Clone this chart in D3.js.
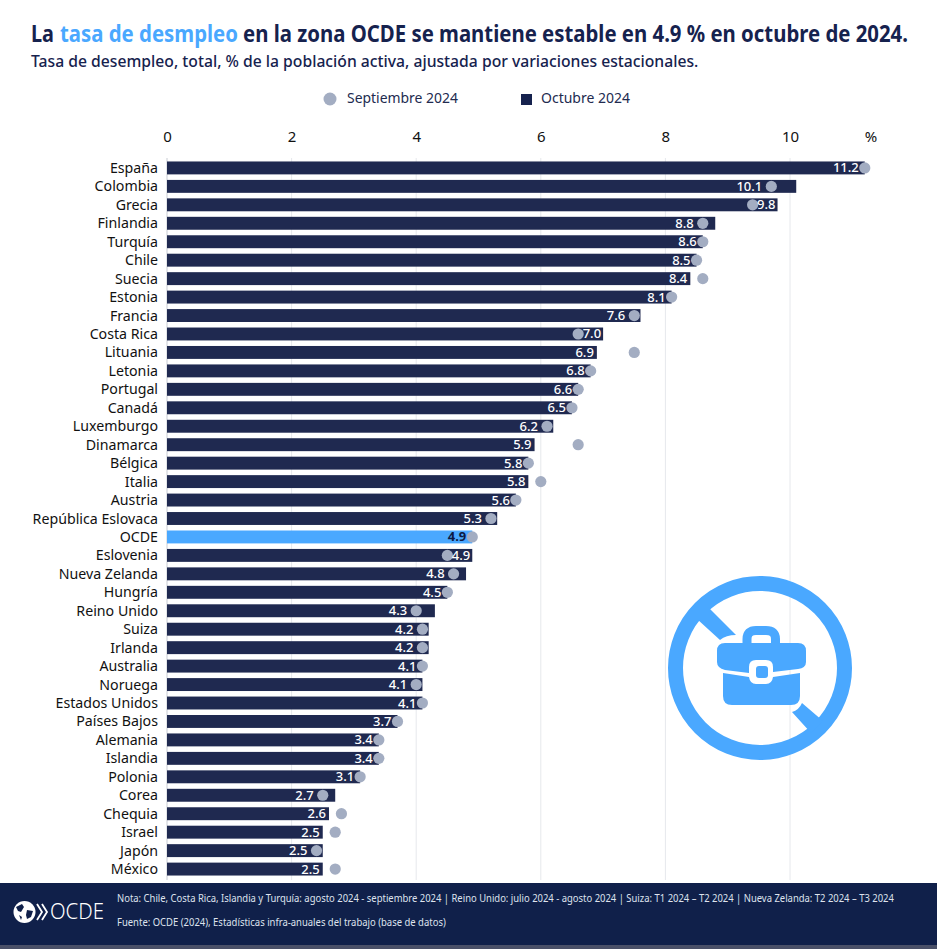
<!DOCTYPE html>
<html><head><meta charset="utf-8">
<script src="https://cdn.jsdelivr.net/npm/d3@7/dist/d3.min.js"></script>
<style>html,body{margin:0;padding:0;background:#fff}svg{display:block}text{font-family:"Noto Sans",sans-serif}</style>
</head><body><svg id="c" width="937" height="949"></svg>
<script>
const categories=["España","Colombia","Grecia","Finlandia","Turquía","Chile","Suecia","Estonia","Francia","Costa Rica","Lituania","Letonia","Portugal","Canadá","Luxemburgo","Dinamarca","Bélgica","Italia","Austria","República Eslovaca","OCDE","Eslovenia","Nueva Zelanda","Hungría","Reino Unido","Suiza","Irlanda","Australia","Noruega","Estados Unidos","Países Bajos","Alemania","Islandia","Polonia","Corea","Chequia","Israel","Japón","México"];
const octubre=[11.2,10.1,9.8,8.8,8.6,8.5,8.4,8.1,7.6,7.0,6.9,6.8,6.6,6.5,6.2,5.9,5.8,5.8,5.6,5.3,4.9,4.9,4.8,4.5,4.3,4.2,4.2,4.1,4.1,4.1,3.7,3.4,3.4,3.1,2.7,2.6,2.5,2.5,2.5];
const septiembre=[11.2,9.7,9.4,8.6,8.6,8.5,8.6,8.1,7.5,6.6,7.5,6.8,6.6,6.5,6.1,6.6,5.8,6.0,5.6,5.2,4.9,4.5,4.6,4.5,4.0,4.1,4.1,4.1,4.0,4.1,3.7,3.4,3.4,3.1,2.5,2.8,2.7,2.4,2.7];
const xTicks=[0,2,4,6,8,10];
const titleParts=["La","tasa de desmpleo","en la zona OCDE se mantiene estable en 4.9 % en octubre de 2024."];
const subtitle="Tasa de desempleo, total, % de la población activa, ajustada por variaciones estacionales.";
const legendNames=["Septiembre 2024","Octubre 2024"];
const notes=["Nota: Chile, Costa Rica, Islandia y Turquía: agosto 2024 - septiembre 2024 | Reino Unido: julio 2024 - agosto 2024 | Suiza: T1 2024 – T2 2024 | Nueva Zelanda: T2 2024 – T3 2024","Fuente: OCDE (2024), Estadísticas infra-anuales del trabajo (base de datos)"];

const NAVY="#1f2950",DOT="#a3adc2",BLUE="#4aa8ff",INK="#16224e";
const svg=d3.select("#c");
const x=d3.scaleLinear().domain([0,10]).range([167,790]);
const y=d3.scaleBand().domain(categories).range([158.7,878.3]).paddingInner(.3).paddingOuter(.15);

// squeezes a text horizontally to the wanted width
function fit(node,px,py,w){
  const len=node.getComputedTextLength();
  d3.select(node).attr("transform",`translate(${px},${py}) scale(${w/len},1)`);
}

// title
const titleLayout=[{x:31,w:23,c:INK},{x:60,w:178,c:BLUE},{x:243,w:665,c:INK}];
svg.append("g").selectAll("text").data(titleParts).join("text")
 .attr("font-size",24).attr("font-weight",700).attr("fill",(d,i)=>titleLayout[i].c).text(d=>d)
 .each(function(d,i){fit(this,titleLayout[i].x,42,titleLayout[i].w);});
fit(svg.append("text").attr("font-size",16).attr("font-weight",500).attr("fill",INK).text(subtitle).node(),31,67,668);

// legend
svg.append("circle").attr("cx",330).attr("cy",99).attr("r",6.5).attr("fill",DOT);
fit(svg.append("text").attr("font-size",14).attr("fill","#222b4f").text(legendNames[0]).node(),347,103,111);
svg.append("rect").attr("x",521).attr("y",94).attr("width",11).attr("height",11).attr("fill",INK);
fit(svg.append("text").attr("font-size",14).attr("fill","#222b4f").text(legendNames[1]).node(),541,103,89);

// grid & axis
svg.append("g").selectAll("line").data(xTicks.slice(1)).join("line")
 .attr("x1",d=>x(d)).attr("x2",d=>x(d)).attr("y1",158).attr("y2",880).attr("stroke","#e6e8ec");
svg.append("line").attr("x1",x(0)).attr("x2",x(0)).attr("y1",158).attr("y2",880).attr("stroke","#c9ccd3");
const ax=svg.append("g").attr("transform","translate(0,145)").call(d3.axisTop(x).tickValues(xTicks).tickSize(0).tickFormat(d3.format("d")));
ax.select(".domain").remove();
ax.selectAll("text").attr("font-size",15).attr("fill","#111").style("font-family",'"Noto Sans",sans-serif');
svg.append("text").attr("x",871).attr("y",142).attr("text-anchor","middle").attr("font-size",15).attr("fill","#111").text("%");

// category labels
svg.append("g").selectAll("text").data(categories).join("text")
 .attr("x",158).attr("y",d=>y(d)+y.bandwidth()/2+5).attr("text-anchor","end").attr("font-size",14.2).attr("fill","#111").text(d=>d);

// bars
svg.append("g").selectAll("rect").data(categories).join("rect")
 .attr("x",x(0)).attr("y",d=>y(d)).attr("height",y.bandwidth())
 .attr("width",(d,i)=>x(octubre[i])-x(0)).attr("fill",d=>d==="OCDE"?BLUE:NAVY);

// value labels follow a placement rule relative to bar end and dot
function labelPos(i){
  const b=x(octubre[i]),s=x(septiembre[i]);
  const w=8*d3.format(".1f")(octubre[i]).length-7;
  if(s>b+5) return b-3;
  if(b-s-7>=w) return b-2;
  if(b-s>3) return s-9;
  return s-6;
}
svg.append("g").selectAll("circle").data(categories).join("circle")
 .attr("cx",(d,i)=>x(septiembre[i])).attr("cy",d=>y(d)+y.bandwidth()/2).attr("r",5.6).attr("fill",DOT);
svg.append("g").selectAll("text").data(categories).join("text")
 .attr("x",(d,i)=>labelPos(i)).attr("y",d=>y(d)+y.bandwidth()/2+4.5)
 .attr("text-anchor","end").attr("font-size",13)
 .attr("fill",d=>d==="OCDE"?"#0d1a44":"#fff").attr("font-weight",d=>d==="OCDE"?700:500)
 .text((d,i)=>d3.format(".1f")(octubre[i]));

// icon
const icon=svg.append("g").attr("transform","translate(760,668)").attr("fill",BLUE);
icon.append("circle").attr("r",84.5).attr("fill","none").attr("stroke",BLUE).attr("stroke-width",15);
icon.append("path").attr("d","M-52,-61L-24,-33Q-34,-33 -40,-28L-63,-49Z");
icon.append("path").attr("d","M42,35L63,53L51,65L32,44Q39,42 42,35Z");
icon.append("path").attr("fill","none").attr("stroke",BLUE).attr("stroke-width",9).attr("d","M-13,-24V-29Q-13,-37.5 -4,-37.5H6Q15.5,-37.5 15.5,-29V-24");
icon.append("path").attr("d","M-35,-25H38Q46,-25 46,-17V-6Q46,0 38,1L13,4V-1Q13,-8 6,-8H-4Q-11,-8 -11,-1V5L-35,2Q-43,0 -43,-6V-17Q-43,-25 -35,-25Z");
icon.append("path").attr("d","M-37,5L-11,9Q-10,16 -4,16H6Q12,16 13,9L40,5V28Q40,37 31,37H-28Q-37,37 -37,28Z");
icon.append("rect").attr("x",-4).attr("y",-2).attr("width",12).attr("height",12).attr("rx",3);

// footer
svg.append("rect").attr("x",0).attr("y",883).attr("width",937).attr("height",62).attr("fill","#10204a");
svg.append("rect").attr("x",0).attr("y",945).attr("width",937).attr("height",4).attr("fill","#4a5068");
const noteW=[778,329];
svg.selectAll("text.note").data(notes).join("text").attr("class","note")
 .attr("font-size",10).attr("fill","#dfe3ee").text(d=>d)
 .each(function(d,i){fit(this,117,i?926:902,noteW[i]);});
const lg=svg.append("g").attr("fill","#fff");
lg.append("circle").attr("cx",24.5).attr("cy",912).attr("r",11);
lg.append("path").attr("fill","#10204a").attr("d","M16,907l6,-3 2,3 -3,5 -3,-1zM27,910l6,1 -2,6 -4,2 -1,-4zM19,915l3,2 -1,3z");
lg.append("path").attr("fill","none").attr("stroke","#fff").attr("stroke-width",1.8).attr("d","M37,904l5,8 -5,8M42,904l5,8 -5,8");
fit(lg.append("text").attr("font-size",22).attr("font-weight",300).text("OCDE").node(),50,919,54);
</script></body></html>
